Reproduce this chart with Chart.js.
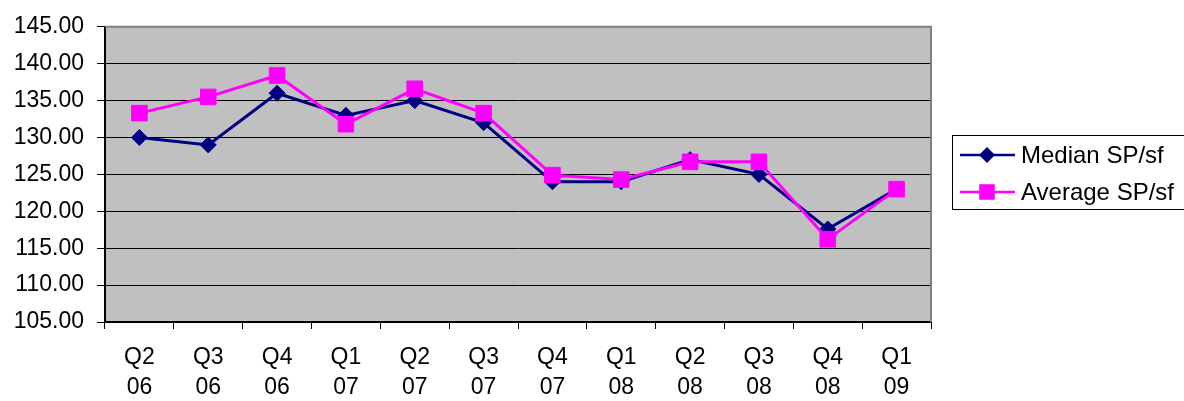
<!DOCTYPE html>
<html>
<head>
<meta charset="utf-8">
<script src="https://cdn.jsdelivr.net/npm/chart.js@4/dist/chart.umd.min.js"></script>
<style>
    html, body { margin: 0; padding: 0; background: #fff; }
    #wrap { width: 1184px; height: 401px; }
</style>
</head>
<body>
<div id="wrap"><canvas id="myChart" width="1184" height="401"></canvas></div>
<script>
// 四半期ラベル
const quarters = [
    ['Q2', '06'], ['Q3', '06'], ['Q4', '06'], ['Q1', '07'],
    ['Q2', '07'], ['Q3', '07'], ['Q4', '07'], ['Q1', '08'],
    ['Q2', '08'], ['Q3', '08'], ['Q4', '08'], ['Q1', '09'],
];

const medianSpSf = [130.0, 129.0, 136.0, 133.0, 135.0, 132.0, 124.0, 124.0, 127.0, 125.0, 117.6, 123.0];
const averageSpSf = [133.3, 135.5, 138.4, 131.8, 136.6, 133.3, 124.9, 124.3, 126.7, 126.7, 116.2, 123.0];

const yMin = 105;
const yMax = 145;
const yStep = 5;

const FONT = 'Arial, "Liberation Sans", sans-serif';

/**
 * プロットエリアの背景と枠を描画します。
 */
const plotAreaPlugin = {
    id: 'plotArea',
    beforeDraw: (chart) => {
        const { ctx, chartArea } = chart;
        ctx.save();
        ctx.fillStyle = '#c0c0c0';
        ctx.fillRect(chartArea.left, chartArea.top, chartArea.right - chartArea.left, chartArea.bottom - chartArea.top);
        ctx.restore();
    },
    beforeDatasetsDraw: (chart) => {
        const { ctx, chartArea } = chart;
        ctx.save();
        ctx.strokeStyle = '#808080';
        ctx.lineWidth = 2;
        ctx.beginPath();
        ctx.moveTo(chartArea.left, chartArea.top);
        ctx.lineTo(chartArea.right, chartArea.top);
        ctx.lineTo(chartArea.right, chartArea.bottom);
        ctx.stroke();
        ctx.restore();
    },
};

/**
 * 枠付きの凡例を描画します。
 */
const boxLegendPlugin = {
    id: 'boxLegend',
    afterDraw: (chart) => {
        const { ctx } = chart;
        const boxLeft = 952.5;
        const boxTop = 135.5;
        const boxBottom = 209.5;

        ctx.save();
        ctx.strokeStyle = '#000';
        ctx.lineWidth = 1;
        ctx.strokeRect(boxLeft, boxTop, 1184 - boxLeft + 5, boxBottom - boxTop);

        const rows = [155, 192];
        chart.data.datasets.forEach((ds, i) => {
            const y = rows[i];
            ctx.strokeStyle = ds.borderColor;
            ctx.lineWidth = 2.5;
            ctx.beginPath();
            ctx.moveTo(960, y);
            ctx.lineTo(1015, y);
            ctx.stroke();

            ctx.fillStyle = ds.pointBackgroundColor;
            ctx.beginPath();
            if (ds.pointStyle === 'rectRot') {
                const r = ds.pointRadius;
                ctx.moveTo(987 - r, y);
                ctx.lineTo(987, y - r);
                ctx.lineTo(987 + r, y);
                ctx.lineTo(987, y + r);
            } else {
                const h = ds.pointRadius * Math.SQRT1_2;
                ctx.rect(987 - h, y - h, h * 2, h * 2);
            }
            ctx.closePath();
            ctx.fill();

            ctx.fillStyle = '#000';
            ctx.font = '24px ' + FONT;
            ctx.textBaseline = 'middle';
            ctx.textAlign = 'left';
            ctx.fillText(ds.label, 1021, y + 1);
        });
        ctx.restore();
    },
};

const createChart = () => {
    const chartData = {
        labels: quarters,
        datasets: [
            {
                label: 'Median SP/sf',
                data: medianSpSf,
                order: 2,
                borderColor: '#000080',
                backgroundColor: '#000080',
                pointBackgroundColor: '#000080',
                pointBorderColor: '#000080',
                borderWidth: 3,
                pointStyle: 'rectRot',
                pointRadius: 8,
                pointBorderWidth: 1,
                tension: 0,
            },
            {
                label: 'Average SP/sf',
                data: averageSpSf,
                order: 1,
                borderColor: '#ff00ff',
                backgroundColor: '#ff00ff',
                pointBackgroundColor: '#ff00ff',
                pointBorderColor: '#ff00ff',
                borderWidth: 3,
                pointStyle: 'rect',
                pointRadius: 11,
                pointBorderWidth: 1,
                tension: 0,
            },
        ],
    };

    const config = {
        type: 'line',
        data: chartData,
        options: {
            responsive: false,
            animation: false,
            layout: {
                padding: { left: 0, top: 23, right: 1184 - 931, bottom: 0 },
            },
            plugins: {
                legend: { display: false },
                tooltip: { enabled: false },
            },
            scales: {
                x: {
                    offset: true,
                    grid: {
                        offset: true,
                        drawOnChartArea: false,
                        tickLength: 7,
                        color: '#000',
                        lineWidth: 1,
                    },
                    border: { color: '#000', width: 2 },
                    ticks: {
                        color: '#000',
                        font: { family: FONT, size: 23, lineHeight: 1.33 },
                        padding: 13,
                        maxRotation: 0,
                        autoSkip: false,
                    },
                    afterFit: (scale) => {
                        scale.height = 401 - 322;
                    },
                },
                y: {
                    min: yMin,
                    max: yMax,
                    grid: {
                        color: '#000',
                        lineWidth: 1,
                        tickLength: 8,
                    },
                    border: { color: '#000', width: 2 },
                    ticks: {
                        stepSize: yStep,
                        color: '#000',
                        font: { family: FONT, size: 23 },
                        padding: 13,
                        callback: (v) => Number(v).toFixed(2),
                    },
                    afterFit: (scale) => {
                        scale.width = 105;
                    },
                },
            },
        },
        plugins: [plotAreaPlugin, boxLegendPlugin],
    };

    new Chart(document.getElementById('myChart'), config);
};

createChart();
</script>
</body>
</html>
